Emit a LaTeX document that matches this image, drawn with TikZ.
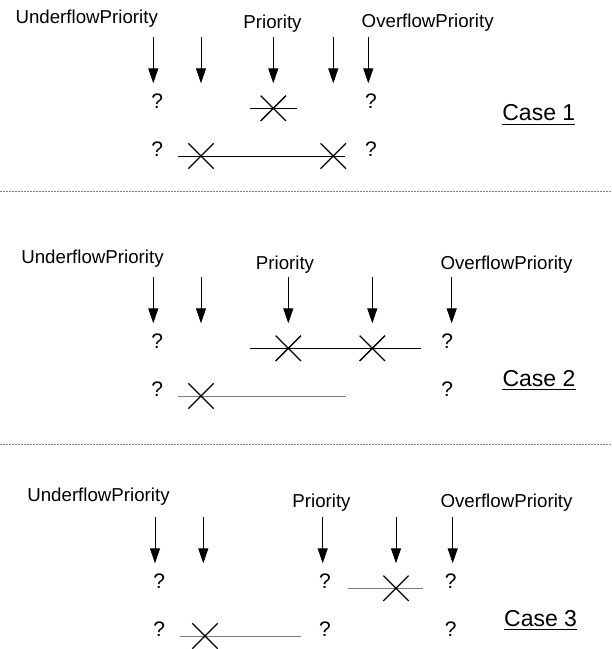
\documentclass[tikz,border=0pt]{standalone}
\usepackage{fontspec}
\setmainfont{Liberation Sans}
\usetikzlibrary{arrows.meta,shapes.misc}
\definecolor{sepgray}{HTML}{808080}
\definecolor{linegray}{HTML}{7A7A7A}
\tikzset{
  lbl/.style={anchor=base,inner sep=0pt,font=\fontsize{18.7}{20}\selectfont},
  qm/.style={anchor=base,inner sep=0pt,font=\fontsize{21}{22}\selectfont},
  caselbl/.style={anchor=base,inner sep=0pt,font=\fontsize{23}{24}\selectfont},
  ptr/.style={-{Triangle[length=15pt,width=10pt]},line width=1pt},
  xm/.style={cross out,draw,minimum size=24pt,inner sep=0pt,line width=1.3pt},
  bar/.style={line width=1pt},
  graybar/.style={line width=1pt,draw=linegray},
  sep/.style={draw=sepgray,line width=0.8pt,dash pattern=on 2pt off 1pt},
  uline/.style={line width=1pt}
}
\begin{document}
\begin{tikzpicture}[x=1pt,y=-1pt]
\useasboundingbox (0,0) rectangle (612,649);
% ---------------- Case 1 ----------------
\node[lbl] (u1) at (86.7,23.3) {UnderflowPriority};
\node[lbl] (p1) at (272.5,28) {Priority};
\node[lbl] (o1) at (427.7,27.5) {OverflowPriority};
\foreach \n/\x in {a/153.3,b/201,c/273.3,d/333.3,e/368.3}{
  \coordinate (t1\n) at (\x,36.7);
  \coordinate (h1\n) at (\x,83.3);
  \draw[ptr] (t1\n) -- (h1\n);
}
\node[qm] (q1a) at (157.3,108.3) {?};
\node[qm] (q1b) at (371,108.3) {?};
\coordinate (l1a) at (250,108.3); \coordinate (l1b) at (297.3,108.3);
\draw[bar] (l1a) -- (l1b);
\node[xm] (x1a) at (273.3,108.3) {};
\node[qm] (q1c) at (157.3,156) {?};
\node[qm] (q1d) at (371,156) {?};
\coordinate (l1c) at (177.7,156); \coordinate (l1d) at (345,156);
\draw[bar] (l1c) -- (l1d);
\node[xm] (x1b) at (201,156) {};
\node[xm] (x1c) at (333.3,156) {};
\node[caselbl] (c1) at (538.8,120.7) {Case 1};
\draw[uline] ([yshift=-3.3pt]c1.base west) -- ([yshift=-3.3pt]c1.base east);
% separator
\coordinate (s1a) at (0,191); \coordinate (s1b) at (612,191);
\draw[sep] (s1a) -- (s1b);
% ---------------- Case 2 ----------------
\node[lbl] (u2) at (92.5,263.3) {UnderflowPriority};
\node[lbl] (p2) at (285,269.3) {Priority};
\node[lbl] (o2) at (506.5,269.3) {OverflowPriority};
\foreach \n/\x in {a/153.3,b/201,c/288.3,d/372.3,e/451.7}{
  \coordinate (t2\n) at (\x,276.7);
  \coordinate (h2\n) at (\x,323.3);
  \draw[ptr] (t2\n) -- (h2\n);
}
\node[qm] (q2a) at (157.3,348.3) {?};
\node[qm] (q2b) at (447.3,348.3) {?};
\coordinate (l2a) at (250,348.3); \coordinate (l2b) at (420.7,348.3);
\draw[bar] (l2a) -- (l2b);
\node[xm] (x2a) at (288.3,348.3) {};
\node[xm] (x2b) at (372.3,348.3) {};
\node[qm] (q2c) at (157.3,396) {?};
\node[qm] (q2d) at (447.3,396) {?};
\coordinate (l2c) at (177.7,396); \coordinate (l2d) at (345.7,396);
\draw[graybar] (l2c) -- (l2d);
\node[xm] (x2c) at (201,396) {};
\node[caselbl] (c2) at (539,386) {Case 2};
\draw[uline] ([yshift=-3.3pt]c2.base west) -- ([yshift=-3.3pt]c2.base east);
% separator
\coordinate (s2a) at (0,444); \coordinate (s2b) at (612,444);
\draw[sep] (s2a) -- (s2b);
% ---------------- Case 3 ----------------
\node[lbl] (u3) at (98.5,501.5) {UnderflowPriority};
\node[lbl] (p3) at (321.5,507.3) {Priority};
\node[lbl] (o3) at (506.5,507.3) {OverflowPriority};
\foreach \n/\x in {a/155,b/203.3,c/322.7,d/396,e/452.7}{
  \coordinate (t3\n) at (\x,516.7);
  \coordinate (h3\n) at (\x,563.3);
  \draw[ptr] (t3\n) -- (h3\n);
}
\node[qm] (q3a) at (159.3,588.3) {?};
\node[qm] (q3b) at (325,588.3) {?};
\node[qm] (q3c) at (450.7,588.3) {?};
\coordinate (l3a) at (348.3,588.3); \coordinate (l3b) at (423.3,588.3);
\draw[graybar] (l3a) -- (l3b);
\node[xm] (x3a) at (396,588.3) {};
\node[qm] (q3d) at (159.3,636) {?};
\node[qm] (q3e) at (325,636) {?};
\node[qm] (q3f) at (450.7,636) {?};
\coordinate (l3c) at (180,636); \coordinate (l3d) at (300.7,636);
\draw[graybar] (l3c) -- (l3d);
\node[xm] (x3b) at (205,636) {};
\node[caselbl] (c3) at (540.6,626) {Case 3};
\draw[uline] ([yshift=-3.3pt]c3.base west) -- ([yshift=-3.3pt]c3.base east);
\end{tikzpicture}
\end{document}
